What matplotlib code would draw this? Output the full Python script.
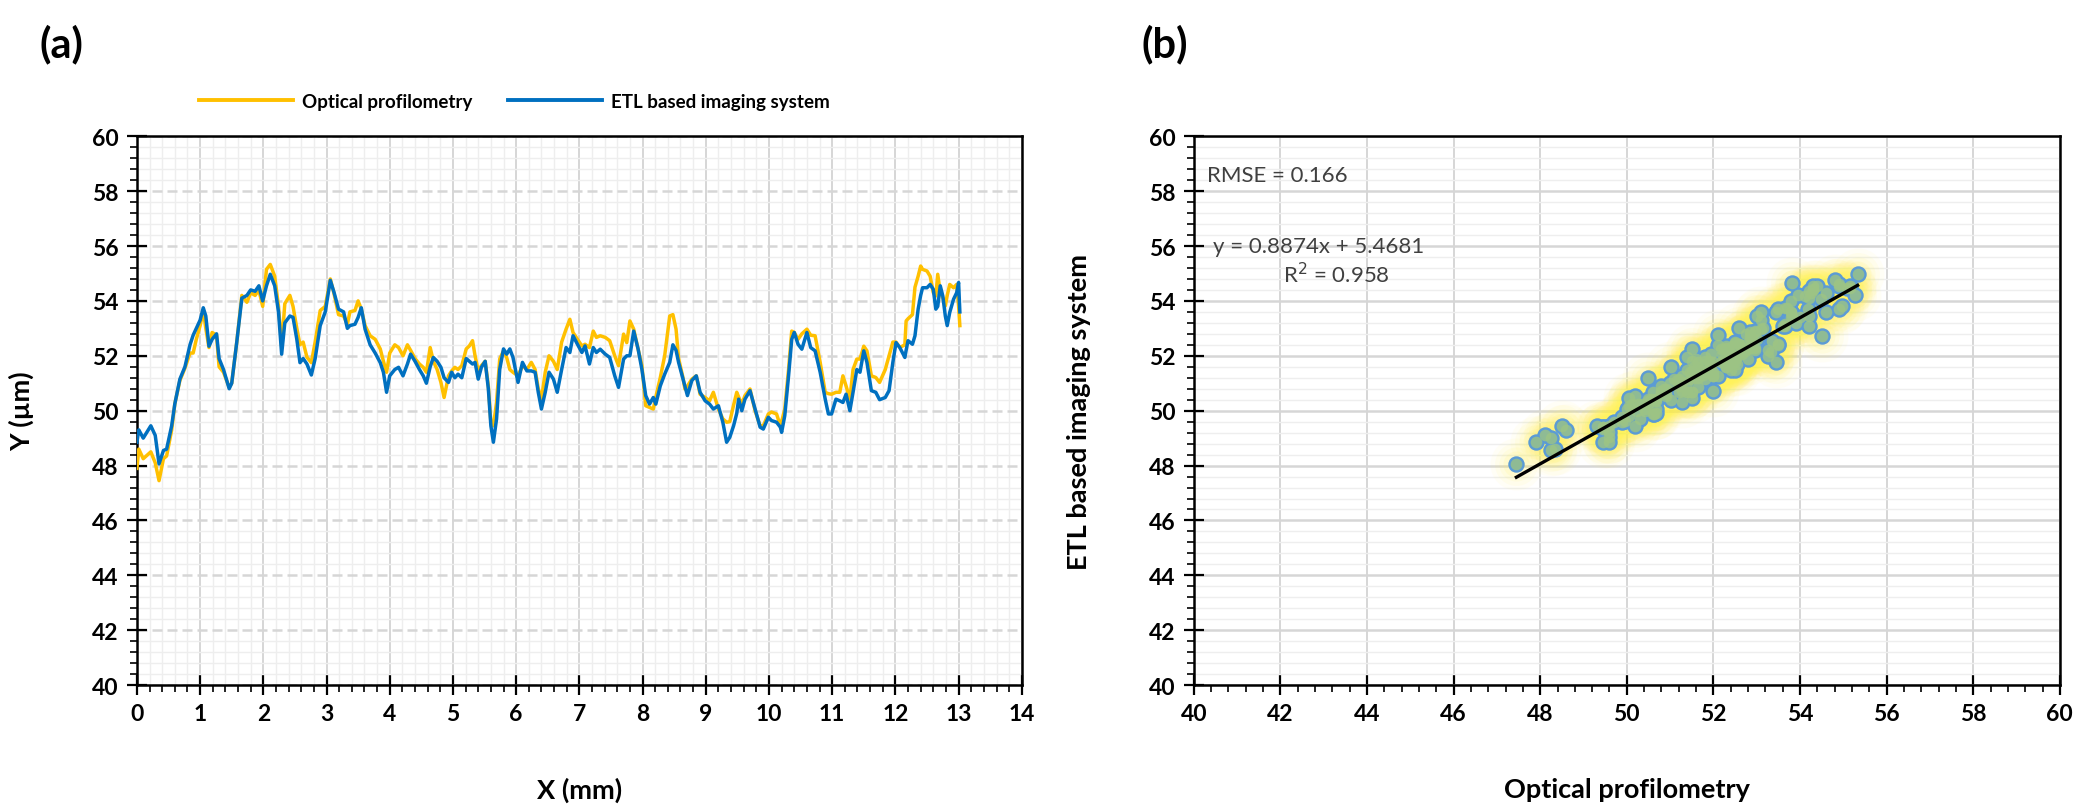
import numpy as np
import matplotlib.pyplot as plt
from matplotlib.ticker import MultipleLocator
from matplotlib.lines import Line2D

plt.rcParams['font.family'] = ['Lato', 'DejaVu Sans']

# profile position (mm)
pos_mm = [0.00, 0.03, 0.10, 0.22, 0.29, 0.35, 0.42, 0.47, 0.55, 0.60, 0.68, 0.76, 0.84, 0.89,
          0.94, 1.00, 1.05, 1.09, 1.14, 1.19, 1.26, 1.30, 1.37, 1.46, 1.50, 1.58, 1.66, 1.74,
          1.80, 1.87, 1.93, 1.99, 2.05, 2.11, 2.18, 2.24, 2.29, 2.34, 2.42, 2.47, 2.53, 2.58,
          2.63, 2.69, 2.76, 2.82, 2.90, 2.98, 3.06, 3.12, 3.19, 3.27, 3.33,
          3.37, 3.45, 3.50, 3.55, 3.61, 3.69, 3.77, 3.85, 3.90, 3.95, 4.00, 4.08, 4.14, 4.21,
          4.28, 4.33, 4.40, 4.47, 4.53, 4.58, 4.64, 4.69, 4.75, 4.81, 4.86, 4.93, 4.98, 5.03,
          5.08, 5.14, 5.21, 5.26, 5.31, 5.35, 5.40, 5.45, 5.51, 5.56, 5.60, 5.64, 5.69, 5.74,
          5.80, 5.85, 5.90, 5.95, 6.03, 6.10, 6.17, 6.24, 6.30, 6.35, 6.40, 6.46, 6.52, 6.59,
          6.65, 6.72, 6.79,
          6.85, 6.90, 6.97, 7.04, 7.09, 7.16, 7.22, 7.27, 7.33, 7.41, 7.48, 7.56, 7.62, 7.70,
          7.75, 7.80, 7.86, 7.93, 7.99, 8.05, 8.11, 8.17, 8.21, 8.28, 8.35, 8.43, 8.48, 8.53,
          8.57, 8.64, 8.67, 8.71, 8.78, 8.85, 8.91, 8.99, 9.06, 9.12, 9.20, 9.27, 9.33, 9.38,
          9.44, 9.49, 9.52, 9.57, 9.62, 9.70, 9.78, 9.86, 9.91, 9.99, 10.04, 10.12, 10.18,
          10.20, 10.25, 10.31, 10.36, 10.40, 10.46,
          10.52, 10.60, 10.66, 10.73, 10.81, 10.89, 10.94, 10.99, 11.06, 11.12, 11.17, 11.22,
          11.28, 11.33, 11.39, 11.44, 11.50, 11.55, 11.62, 11.69, 11.75, 11.84, 11.90, 11.96,
          12.01, 12.07, 12.15, 12.17, 12.20, 12.27, 12.31, 12.36, 12.40, 12.43, 12.50, 12.55,
          12.60, 12.64, 12.67, 12.71, 12.75, 12.79, 12.82, 12.86, 12.92, 12.97, 13.00, 13.02]

optical = [47.90, 48.60, 48.25, 48.50, 48.10, 47.45, 48.25, 48.35, 49.30, 50.25, 51.10, 51.55, 52.10, 52.10,
           52.60, 53.10, 53.65, 53.00, 52.30, 52.85, 52.75, 51.60, 51.40, 50.85, 51.00, 52.50, 54.20, 53.95,
           54.30, 54.20, 54.40, 53.80, 55.15, 55.33, 54.90, 53.80, 52.35, 53.90, 54.20, 53.80, 53.00, 52.40,
           52.50, 51.95, 51.75, 52.50, 53.65, 53.80, 54.80, 54.25, 53.50, 53.45, 53.15,
           53.60, 53.65, 54.00, 53.70, 53.10, 52.73, 52.60, 52.25, 51.80, 51.40, 52.10, 52.40, 52.30, 52.00,
           52.40, 52.20, 51.90, 51.70, 51.58, 51.40, 52.30, 51.80, 51.50, 51.03, 50.48, 51.27, 51.45, 51.58,
           51.50, 51.64, 52.25, 52.36, 52.55, 52.00, 51.45, 51.64, 51.80, 50.90, 49.58, 49.45, 50.30, 51.88,
           52.18, 51.94, 51.50, 51.40, 51.27, 51.64, 51.50, 51.76, 51.50, 50.80, 50.42, 51.40, 52.00, 51.80,
           51.50, 52.50, 52.97,
           53.33, 52.85, 52.60, 52.36, 52.42, 52.30, 52.90, 52.67, 52.73, 52.67, 52.55, 52.00, 51.64, 52.79,
           52.48, 53.27, 52.97, 52.24, 51.64, 50.18, 50.12, 50.06, 50.50, 51.20, 52.00, 53.45, 53.50, 52.97,
           51.90, 51.20, 50.79, 50.90, 51.15, 51.27, 50.60, 50.48, 50.36, 50.67, 50.06, 49.70, 49.58, 49.60,
           50.20, 50.67, 50.50, 50.24, 50.55, 50.79, 50.00, 49.45, 49.45, 49.88, 49.95, 49.88, 49.45,
           49.60, 50.06, 51.50, 52.90, 52.85, 52.60,
           52.80, 52.97, 52.75, 52.73, 51.76, 50.67, 50.62, 50.60, 50.67, 50.67, 51.27, 50.90,
           50.42, 51.50, 51.88, 51.88, 52.35, 52.18, 51.27, 51.21, 51.03, 51.50, 52.00, 52.50,
           52.50, 52.30, 52.40, 53.27, 53.35, 53.50, 54.50, 54.90, 55.27, 55.15, 55.09, 54.90,
           54.30, 54.18, 54.97, 54.30, 54.12, 53.82, 54.20, 54.60, 54.48, 54.60, 53.82, 53.10]

etl = [48.85, 49.30, 49.00, 49.45, 49.10, 48.06, 48.55, 48.60, 49.45, 50.25, 51.15, 51.60, 52.40, 52.75,
       53.00, 53.30, 53.75, 53.45, 52.35, 52.60, 52.80, 51.90, 51.50, 50.80, 51.00, 52.50, 54.10, 54.20,
       54.40, 54.35, 54.55, 54.00, 54.55, 54.97, 54.55, 53.60, 52.06, 53.20, 53.45, 53.40, 52.60, 51.75,
       51.90, 51.70, 51.30, 51.90, 53.10, 53.60, 54.75, 54.30, 53.70, 53.60, 53.00,
       53.10, 53.15, 53.40, 53.75, 52.97, 52.40, 52.10, 51.75, 51.40, 50.67, 51.27, 51.50, 51.58, 51.27,
       51.70, 52.06, 51.80, 51.50, 51.27, 51.00, 51.60, 51.94, 51.80, 51.58, 51.20, 51.03, 51.40, 51.20,
       51.33, 51.20, 51.90, 51.80, 51.70, 51.76, 51.15, 51.58, 51.80, 50.80, 49.45, 48.85, 49.70, 51.50,
       52.25, 52.06, 52.25, 51.94, 51.03, 51.76, 51.45, 51.45, 51.40, 50.67, 50.06, 50.67, 51.40, 51.15,
       50.67, 51.50, 52.30,
       52.12, 52.73, 52.42, 52.12, 52.36, 51.70, 52.30, 52.12, 52.24, 52.06, 51.94, 51.27, 50.85, 51.88,
       52.00, 52.00, 52.90, 52.24, 51.50, 50.55, 50.24, 50.48, 50.24, 50.90, 51.33, 51.76, 52.40, 52.20,
       51.76, 51.15, 50.90, 50.55, 51.10, 51.27, 50.67, 50.36, 50.24, 50.06, 50.18, 49.58, 48.85, 49.03,
       49.45, 49.90, 50.42, 50.00, 50.42, 50.73, 50.06, 49.40, 49.33, 49.76, 49.64, 49.58, 49.40,
       49.21, 49.82, 51.27, 52.60, 52.85, 52.42,
       52.24, 52.85, 52.30, 52.18, 51.40, 50.42, 49.88, 49.88, 50.42, 50.36, 50.30, 50.60,
       50.00, 50.67, 51.50, 51.40, 52.18, 51.76, 50.73, 50.67, 50.40, 50.48, 50.73, 51.76,
       52.48, 52.30, 51.94, 52.20, 52.55, 52.42, 52.73, 53.70, 54.20, 54.48, 54.48, 54.60,
       54.42, 53.70, 53.80, 54.55, 54.18, 53.45, 53.10, 53.58, 54.06, 54.30, 54.67, 53.60]

fit_slope = 0.8874
fit_intercept = 5.4681
rmse = 0.166
r2 = 0.958

yellow = '#FFC000'
blue = '#0070C0'
grey_txt = '#404040'

fig = plt.figure(figsize=(20.87, 8.12), dpi=100)
ax1 = fig.add_axes([0.0656, 0.155, 0.424, 0.676])
ax2 = fig.add_axes([0.572, 0.155, 0.415, 0.676])


def style_axes(ax, xmaj, xmin, ymaj, ymin, hdash=True, xminor_grid=True):
    ax.xaxis.set_major_locator(MultipleLocator(xmaj))
    ax.xaxis.set_minor_locator(MultipleLocator(xmin))
    ax.yaxis.set_major_locator(MultipleLocator(ymaj))
    ax.yaxis.set_minor_locator(MultipleLocator(ymin))
    ax.grid(which='minor', axis='y', color='#eeeeee', lw=1.0, zorder=0)
    if xminor_grid:
        ax.grid(which='minor', axis='x', color='#eeeeee', lw=1.0, zorder=0)
    ax.grid(which='major', axis='x', color='#d6d6d6', lw=1.4, zorder=0)
    ax.grid(which='major', axis='y', color='#d6d6d6', lw=1.8,
            ls=(0, (4, 2)) if hdash else '-', zorder=0)
    ax.set_axisbelow(True)
    ax.tick_params(which='major', direction='inout', length=14, width=1.6,
                   labelsize=16.5, pad=6)
    ax.tick_params(which='minor', direction='out', length=5, width=1.2)
    for lab in ax.get_xticklabels() + ax.get_yticklabels():
        lab.set_fontweight('bold')
    for sp in ax.spines.values():
        sp.set_linewidth(1.8)
        sp.set_color('black')


# (a) surface profiles
ax1.plot(pos_mm, optical, color=yellow, lw=2.5, zorder=3)
ax1.plot(pos_mm, etl, color=blue, lw=2.5, zorder=4)
ax1.set_xlim(0, 14)
ax1.set_ylim(40, 60)
style_axes(ax1, 1, 0.2, 2, 0.4)
ax1.set_xlabel('X (mm)', fontsize=19.5, fontweight='bold', labelpad=38)
ax1.set_ylabel('Y (µm)', fontsize=19.5, fontweight='bold', labelpad=42)

handles = [Line2D([], [], color=yellow, lw=2.8), Line2D([], [], color=blue, lw=2.8)]
fig.legend(handles, ['Optical profilometry', 'ETL based imaging system'],
           loc='center', bbox_to_anchor=(0.2465, 0.874), ncol=2, frameon=False,
           handlelength=5.0, columnspacing=1.9, handletextpad=0.5,
           prop={'weight': 'bold', 'size': 13.5})

# (b) correlation
opt = np.array(optical)
et = np.array(etl)
for s, a in [(1400, 0.05), (950, 0.07), (600, 0.09), (350, 0.12)]:
    ax2.scatter(opt, et, s=s, color='#FFF25C', alpha=a, lw=0, zorder=2)
ax2.scatter(opt, et, s=140, color='#5B9BD5', lw=0, zorder=3)
ax2.scatter(opt, et, s=70, color='#9DC484', alpha=0.8, lw=0, zorder=4)
xf = np.array([opt.min(), opt.max()])
ax2.plot(xf, fit_slope * xf + fit_intercept, color='black', lw=2.4, zorder=5)
ax2.set_xlim(40, 60)
ax2.set_ylim(40, 60)
style_axes(ax2, 2, 0.4, 2, 0.4, hdash=False, xminor_grid=False)
ax2.set_xlabel('Optical profilometry', fontsize=19.5, fontweight='bold', labelpad=38)
ax2.set_ylabel('ETL based imaging system', fontsize=19.5, fontweight='bold', labelpad=42)

ax2.text(40.3, 58.6, 'RMSE = %.3f' % rmse, fontsize=16, color=grey_txt, va='center')
ax2.text(40.45, 56.0, 'y = %.4fx + %.4f' % (fit_slope, fit_intercept),
         fontsize=16, color=grey_txt, va='center')
ax2.text(42.05, 55.0, 'R$^2$ = %.3f' % r2, fontsize=16, color=grey_txt, va='center')

fig.text(0.019, 0.945, '(a)', fontsize=30, fontweight='bold', va='center')
fig.text(0.547, 0.945, '(b)', fontsize=30, fontweight='bold', va='center')

fig.savefig('out.png', dpi=100)
